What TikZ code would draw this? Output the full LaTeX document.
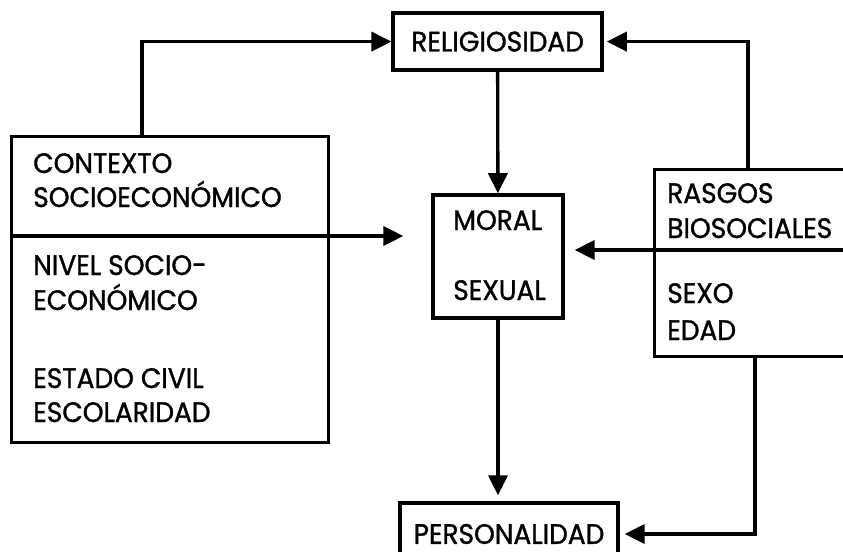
\documentclass[tikz,border=0pt]{standalone}
\usepackage{fontspec}
\setmainfont{Poppins}[FakeBold=1.2,FakeStretch=0.94]
\usetikzlibrary{arrows.meta,positioning}
\tikzset{font={\fontsize{20pt}{24}\selectfont}}
\tikzset{
box/.style={draw,line width=2.4pt,inner sep=0pt},
txt/.style={anchor=base west,inner sep=0pt},
conn/.style={line width=2.4pt,-{Triangle[length=0.5cm,width=0.48cm]}}
}

\begin{document}
\begin{tikzpicture}
\useasboundingbox (0,0) rectangle (21.075,-13.8);

%boxes
\node[box,anchor=north west,minimum width=7.925cm,minimum height=7.65cm] (ctx) at (0.25,-3.375) {};
\node[box,minimum width=5.225cm,minimum height=1.425cm] (relig) at (12.44,-1.04) {RELIGIOSIDAD};
\node[box,minimum width=3.25cm,minimum height=3.075cm] (moral) at (12.45,-6.41) {};
\node[box,anchor=north west,minimum width=6.2cm,minimum height=4.675cm] (rasgos) at (16.325,-4.2) {};
\node[box,minimum width=5.45cm,minimum height=1.55cm] (pers) at (12.725,-13.35) {PERSONALIDAD};

%texts
\node[txt] (ctx1) at (0.825,-4.325) {CONTEXTO};
\node[txt] (ctx2) at (0.825,-5.175) {SOCIOECONÓMICO};
\node[txt] (ctx3) at (0.825,-6.875) {NIVEL SOCIO-};
\node[txt] (ctx4) at (0.825,-7.75) {ECONÓMICO};
\node[txt] (ctx5) at (0.825,-9.7) {ESTADO CIVIL};
\node[txt] (ctx6) at (0.825,-10.55) {ESCOLARIDAD};

\node[txt] (moral1) at (11.325,-5.75) {MORAL};
\node[txt] (moral2) at (11.325,-7.5) {SEXUAL};

\node[txt] (ras1) at (16.675,-5.075) {RASGOS};
\node[txt] (ras2) at (16.675,-5.95) {BIOSOCIALES};
\node[txt] (ras3) at (16.675,-7.575) {SEXO};
\node[txt] (ras4) at (16.675,-8.5) {EDAD};

%split lines and arrows
\coordinate (ctxdiv) at (0.25,-5.9);
\coordinate (rasdiv) at (16.325,-6.25);
\coordinate (ctxup) at (3.55,-3.375);
\coordinate (rasup) at (18.7,-4.2);
\coordinate (rasdown) at (18.875,-8.875);

\draw[conn,shorten >=0.7cm] (ctxdiv) -- (moral.west |- ctxdiv);
\draw[conn,shorten >=0.25cm] (rasgos.east |- rasdiv) -- (moral.east |- rasdiv);
\draw[conn] (ctxup) |- (relig.west);
\draw[conn,shorten >=0.075cm] (rasup) |- (relig.east);
\draw[conn] (relig) -- (moral);
\draw[conn,shorten >=0.15cm] (moral) -- (moral |- pers.north);
\draw[conn,shorten >=0.125cm] (rasdown) |- (pers.east);

\end{tikzpicture}
\end{document}
